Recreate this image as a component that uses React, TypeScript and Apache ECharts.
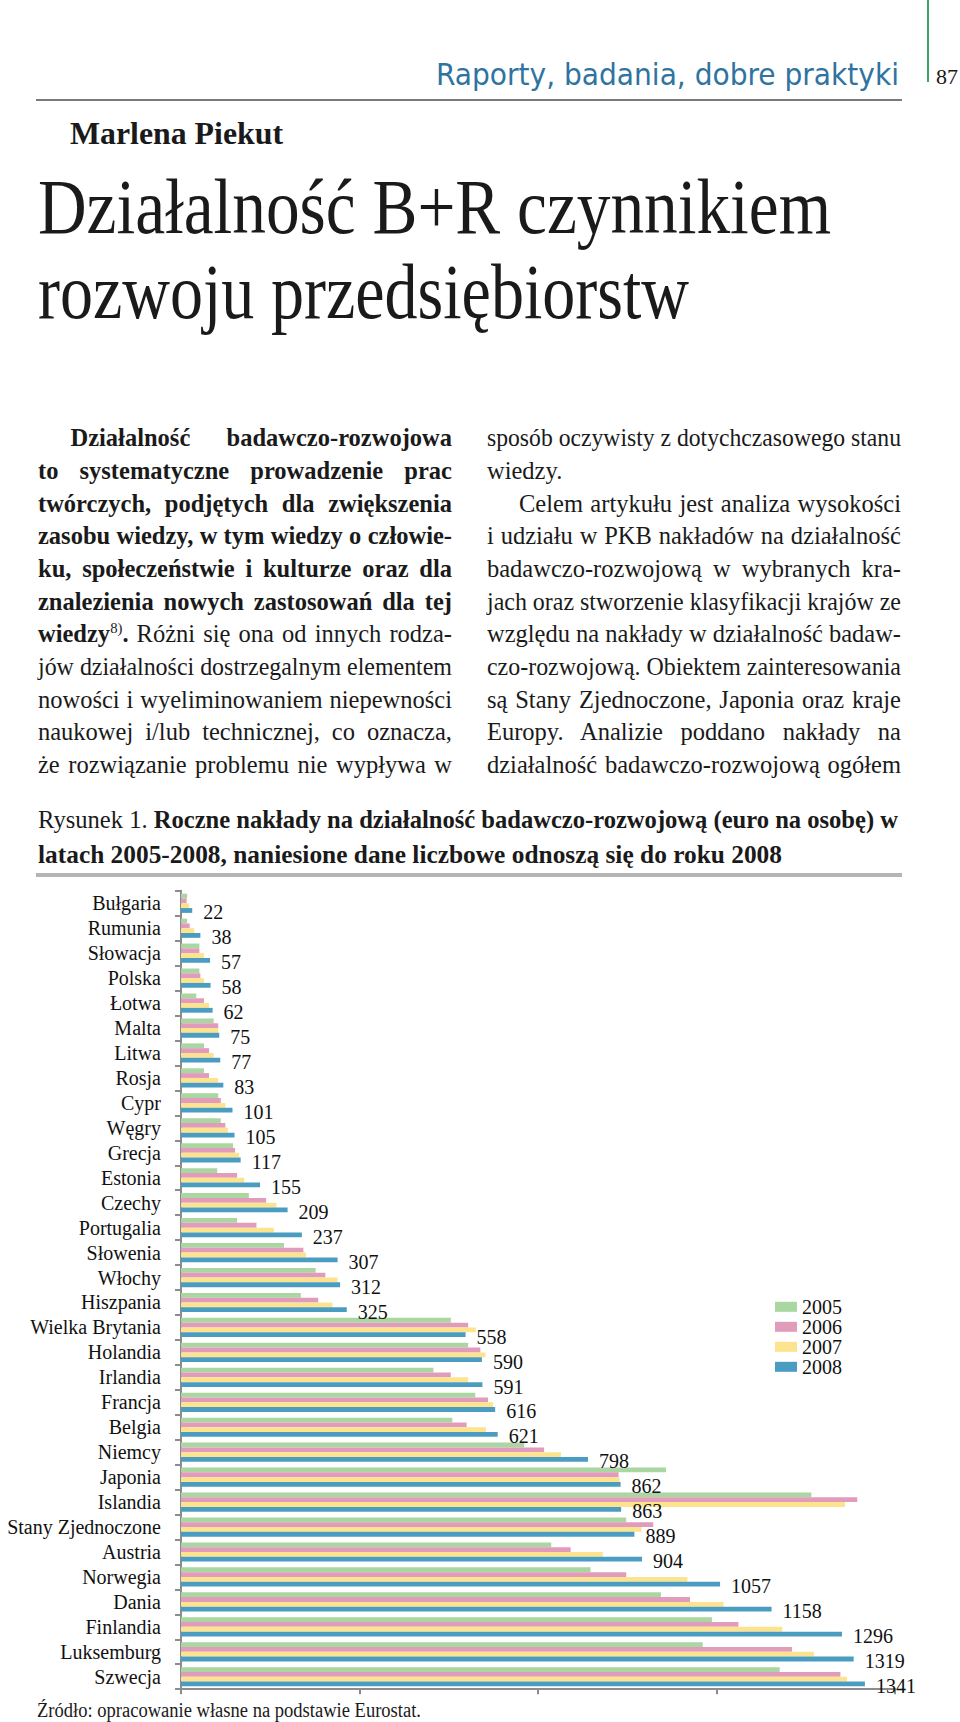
import React, { useEffect, useLayoutEffect, useRef, useState } from "react";
import * as echarts from "echarts";

const categories = [
  "Bułgaria", "Rumunia", "Słowacja", "Polska", "Łotwa", "Malta", "Litwa", "Rosja",
  "Cypr", "Węgry", "Grecja", "Estonia", "Czechy", "Portugalia", "Słowenia", "Włochy",
  "Hiszpania", "Wielka Brytania", "Holandia", "Irlandia", "Francja", "Belgia", "Niemcy",
  "Japonia", "Islandia", "Stany Zjednoczone", "Austria", "Norwegia", "Dania",
  "Finlandia", "Luksemburg", "Szwecja",
];
const v2005 = [12, 12, 36, 36, 30, 64, 45, 45, 73, 78, 102, 71, 133, 110, 202, 264, 235, 529, 563, 495, 577, 532, 673, 951, 1236, 873, 726, 803, 941, 1041, 1023, 1174];
const v2006 = [11, 17, 36, 38, 45, 73, 55, 55, 78, 87, 106, 110, 167, 148, 240, 283, 269, 563, 587, 529, 602, 560, 712, 858, 1326, 926, 764, 873, 998, 1093, 1198, 1293];
const v2007 = [16, 26, 45, 45, 55, 73, 64, 73, 87, 92, 114, 124, 187, 182, 245, 307, 297, 578, 597, 563, 612, 598, 745, 860, 1302, 903, 827, 993, 1064, 1179, 1241, 1306];
const v2008 = [22, 38, 57, 58, 62, 75, 77, 83, 101, 105, 117, 155, 209, 237, 307, 312, 325, 558, 590, 591, 616, 621, 798, 862, 863, 889, 904, 1057, 1158, 1296, 1319, 1341];
const years = ["2005", "2006", "2007", "2008"];
const xMin = 0;
const xMax = 1400;
const xInterval = 350;

const SERIF = '"Liberation Serif", "Times New Roman", serif';
const SANS = '"Liberation Sans Narrow", "DejaVu Sans Condensed", "Liberation Sans", Arial, sans-serif';
const COLORS = ["#a9d6a1", "#e19bbb", "#fde38d", "#4b9cc1"];
const AXIS = "#8c8c8c";

type Seg = { t: string; b?: boolean; sup?: boolean };
type LineSpec = {
  x: number;
  base: number;
  w?: number;
  size: number;
  mode: "justify" | "fit" | "none";
  segs: Seg[];
  family?: string;
  color?: string;
  asc?: number;
  weight?: number;
};

function TextLine(p: LineSpec) {
  const ref = useRef<HTMLSpanElement>(null);
  const [adj, setAdj] = useState({ ws: 0, sx: 1 });
  useLayoutEffect(() => {
    const el = ref.current;
    if (!el || !p.w || p.mode === "none") return;
    const nat = el.getBoundingClientRect().width;
    if (p.mode === "fit") {
      setAdj({ ws: 0, sx: p.w / nat });
    } else {
      const spaces = p.segs.map((s) => s.t).join("").split(" ").length - 1;
      if (nat <= p.w && spaces > 0) setAdj({ ws: (p.w - nat) / spaces, sx: 1 });
      else setAdj({ ws: 0, sx: p.w / nat });
    }
  }, []);
  const asc = p.asc ?? 0.8375;
  return (
    <div
      style={{
        position: "absolute",
        left: p.x,
        top: p.base - asc * p.size,
        fontSize: p.size,
        lineHeight: `${p.size}px`,
        fontFamily: p.family ?? SERIF,
        color: p.color ?? "#1a1a1a",
        whiteSpace: "nowrap",
      }}
    >
      <span
        ref={ref}
        style={{
          display: "inline-block",
          wordSpacing: adj.ws,
          transform: `scaleX(${adj.sx})`,
          transformOrigin: "left center",
        }}
      >
        {p.segs.map((s, i) =>
          s.sup ? (
            <span key={i} style={{ fontSize: "0.6em", position: "relative", top: "-0.6em" }}>
              {s.t}
            </span>
          ) : (
            <span key={i} style={{ fontWeight: s.b ? 700 : p.weight ?? 400 }}>
              {s.t}
            </span>
          )
        )}
      </span>
    </div>
  );
}

const BODY = 24.5;
const LH = 32.63;
const B0 = 447;
const leftLines: Seg[][] = [
  [{ t: "Działalność badawczo-rozwojowa", b: true }],
  [{ t: "to systematyczne prowadzenie prac", b: true }],
  [{ t: "twórczych, podjętych dla zwiększenia", b: true }],
  [{ t: "zasobu wiedzy, w tym wiedzy o człowie-", b: true }],
  [{ t: "ku, społeczeństwie i kulturze oraz dla", b: true }],
  [{ t: "znalezienia nowych zastosowań dla tej", b: true }],
  [{ t: "wiedzy", b: true }, { t: "8)", sup: true }, { t: ".", b: true }, { t: " Różni się ona od innych rodza-" }],
  [{ t: "jów działalności dostrzegalnym elementem" }],
  [{ t: "nowości i wyeliminowaniem niepewności" }],
  [{ t: "naukowej i/lub technicznej, co oznacza," }],
  [{ t: "że rozwiązanie problemu nie wypływa w" }],
];
const rightLines: string[] = [
  "sposób oczywisty z dotychczasowego stanu",
  "wiedzy.",
  "Celem artykułu jest analiza wysokości",
  "i udziału w PKB nakładów na działalność",
  "badawczo-rozwojową w wybranych kra-",
  "jach oraz stworzenie klasyfikacji krajów ze",
  "względu na nakłady w działalność badaw-",
  "czo-rozwojową. Obiektem zainteresowania",
  "są Stany Zjednoczone, Japonia oraz kraje",
  "Europy. Analizie poddano nakłady na",
  "działalność badawczo-rozwojową ogółem",
];

function Chart() {
  const ref = useRef<HTMLDivElement>(null);
  useEffect(() => {
    if (!ref.current) return;
    const chart = echarts.init(ref.current, undefined, { renderer: "svg" });
    const data = [v2005, v2006, v2007, v2008];
    chart.setOption({
      animation: false,
      grid: { left: 181, top: 890.8, width: 714, height: 798.4, containLabel: false },
      legend: {
        orient: "vertical",
        left: 775,
        top: 1296.8,
        padding: 0,
        itemWidth: 22,
        itemHeight: 10,
        itemGap: 0,
        icon: "rect",
        data: years,
        textStyle: { fontSize: 20, fontFamily: SERIF, color: "#111", lineHeight: 19.7, padding: [0, 0, 0, 0] },
      },
      xAxis: {
        type: "value",
        min: xMin,
        max: xMax,
        interval: xInterval,
        axisLine: { show: true, lineStyle: { color: AXIS, width: 2 } },
        axisTick: { show: true, length: 5, lineStyle: { color: AXIS, width: 2 } },
        axisLabel: { show: false },
        splitLine: { show: false },
      },
      yAxis: {
        type: "category",
        data: categories,
        inverse: true,
        axisLine: { show: true, lineStyle: { color: AXIS, width: 2 } },
        axisTick: { show: true, length: 6, interval: 0, lineStyle: { color: AXIS, width: 2 } },
        axisLabel: { interval: 0, hideOverlap: false, fontSize: 20, fontFamily: SERIF, color: "#111", margin: 20 },
      },
      series: years.map((y, i) => ({
        type: "bar",
        name: y,
        data: data[i],
        barWidth: 4.8,
        barGap: "0%",
        itemStyle: { color: COLORS[i] },
        label:
          i === 3
            ? {
                show: true,
                position: "right",
                distance: 11,
                offset: [0, 2],
                fontSize: 20,
                fontFamily: SERIF,
                color: "#111",
              }
            : { show: false },
      })),
    });
    return () => chart.dispose();
  }, []);
  return <div ref={ref} style={{ position: "absolute", left: 0, top: 0, width: 960, height: 1722 }} />;
}

export default function App() {
  return (
    <div
      style={{
        position: "absolute",
        left: 0,
        top: 0,
        width: 960,
        height: 1722,
        overflow: "hidden",
        background: "#fff",
      }}
    >
      <Chart />
      {/* header */}
      <div style={{ position: "absolute", left: 927, top: 0, width: 2, height: 82, background: "#3aa66e" }} />
      <TextLine x={436} base={85} w={463} size={31} mode="fit" family={SANS} asc={0.8465} color="#2f74a0" weight={300}
        segs={[{ t: "Raporty, badania, dobre praktyki" }]} />
      <TextLine x={936} base={84} w={22} size={20} mode="fit" segs={[{ t: "87" }]} />
      <div style={{ position: "absolute", left: 36, top: 99, width: 866, height: 2, background: "#7a7a7a" }} />
      {/* author & title */}
      <TextLine x={70} base={144} w={213} size={31} mode="fit" segs={[{ t: "Marlena Piekut", b: true }]} />
      <TextLine x={38} base={233} w={793} size={78} mode="fit" segs={[{ t: "Działalność B+R czynnikiem" }]} />
      <TextLine x={38} base={318} w={651} size={78} mode="fit" segs={[{ t: "rozwoju przedsiębiorstw" }]} />
      {/* body columns */}
      {leftLines.map((segs, k) => (
        <TextLine key={"l" + k} x={k === 0 ? 70.5 : 38} base={B0 + LH * k} w={k === 0 ? 381.5 : 414}
          size={BODY} mode="justify" segs={segs} />
      ))}
      {rightLines.map((t, k) => (
        <TextLine key={"r" + k} x={k === 2 ? 519 : 487} base={B0 + LH * k} w={k === 2 ? 382 : 414}
          size={BODY} mode={k === 1 ? "none" : "justify"} segs={[{ t }]} />
      ))}
      {/* caption */}
      <TextLine x={38} base={829} w={860} size={26} mode="fit"
        segs={[{ t: "Rysunek 1. " }, { t: "Roczne nakłady na działalność badawczo-rozwojową (euro na osobę) w", b: true }]} />
      <TextLine x={38} base={864} w={744} size={26} mode="fit"
        segs={[{ t: "latach 2005-2008, naniesione dane liczbowe odnoszą się do roku 2008", b: true }]} />
      <div style={{ position: "absolute", left: 36, top: 873, width: 866, height: 4, background: "#b5b5b5" }} />
      {/* source */}
      <TextLine x={37} base={1717} w={384} size={20} mode="fit"
        segs={[{ t: "Źródło: opracowanie własne na podstawie Eurostat." }]} />
    </div>
  );
}
